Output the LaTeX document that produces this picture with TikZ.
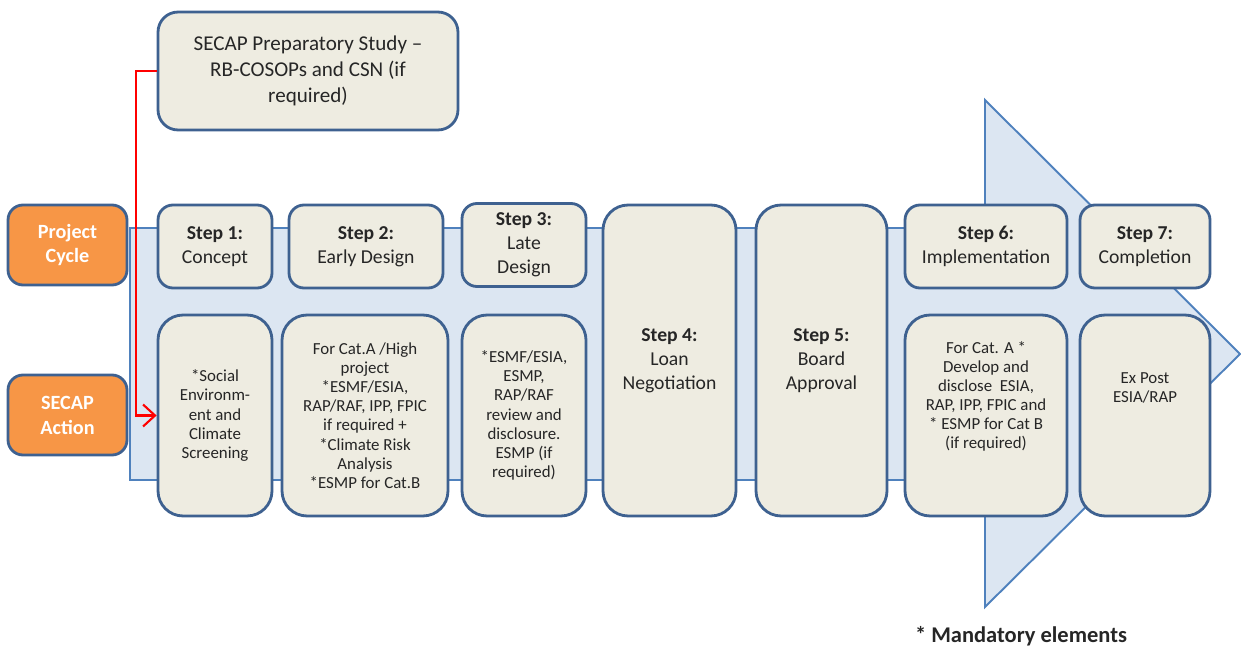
\documentclass[tikz,border=0pt]{standalone}
\usepackage{fontspec}
\setmainfont{Carlito}
\usetikzlibrary{arrows.meta, positioning, calc}

\definecolor{boxfill}{HTML}{EEECE1}
\definecolor{boxline}{HTML}{3E6190}
\definecolor{shaftfill}{HTML}{DCE6F2}
\definecolor{shaftline}{HTML}{4F81BD}
\definecolor{cyclefill}{HTML}{F79646}

\begin{document}
\begin{tikzpicture}[x=0.02cm, y=-0.02cm,
    box/.style={draw=boxline, line width=1.6pt, fill=boxfill, align=center,
        inner sep=2pt, text=black!85},
    stepbox/.style={box, rounded corners=0.3cm, font=\fontsize{11.2}{13.7}\selectfont},
    tallbox/.style={box, rounded corners=0.5cm, minimum height=6.22cm,
        font=\fontsize{11.2}{13.7}\selectfont},
    actbox/.style={box, rounded corners=0.5cm, minimum height=4.02cm,
        font=\fontsize{9.6}{10.9}\selectfont},
    cyclebox/.style={draw=boxline, line width=1.6pt, fill=cyclefill, text=white,
        rounded corners=0.3cm, align=center, minimum width=2.38cm, minimum height=1.6cm,
        font=\fontsize{11.5}{14.2}\selectfont\bfseries}]
                \useasboundingbox (0,0) rectangle (1241,652);
                % big arrow behind the steps
                \filldraw[fill=shaftfill, draw=shaftline, line width=1.1pt, line join=miter]
                (130,228) -- (985,228) -- (985,100) -- (1240,354) -- (985,607)
                -- (985,480) -- (130,480) -- cycle;
                \node[stepbox, rounded corners=0.4cm, minimum width=6cm, minimum height=2.36cm,
                    font=\fontsize{12}{14.8}\selectfont] (prep) at (308,71)
                    {SECAP Preparatory Study --\\RB-COSOPs and CSN (if\\required)};
                \node[cyclebox] (pc) at (67.5,245) {Project\\Cycle};
                \node[cyclebox] (sa) at (67.5,415) {SECAP\\Action};
                \node[stepbox, minimum width=2.28cm, minimum height=1.66cm] (s1) at (215,246.5)
                    {\textbf{Step 1:}\\Concept};
                \node[stepbox, minimum width=3.08cm, minimum height=1.66cm] (s2) at (366,246.5)
                    {\textbf{Step 2:}\\Early Design};
                \node[stepbox, minimum width=2.48cm, minimum height=1.66cm] (s3) at (524,245)
                    {\textbf{Step 3:}\\Late\\Design};
                \node[tallbox, minimum width=2.66cm] (s4) at (669.5,360.5)
                    {\textbf{Step 4:}\\Loan\\Negotiation};
                \node[tallbox, minimum width=2.62cm] (s5) at (821.5,360.5)
                    {\textbf{Step 5:}\\Board\\Approval};
                \node[stepbox, minimum width=3.24cm, minimum height=1.66cm] (s6) at (986,246.5)
                    {\textbf{Step 6:}\\Implementation};
                \node[stepbox, minimum width=2.6cm, minimum height=1.66cm] (s7) at (1145,246.5)
                    {\textbf{Step 7:}\\Completion};
                \node[actbox, minimum width=2.28cm] (a1) at (215,415.5)
                    {*Social\\Environm-\\ent and\\Climate\\Screening};
                \node[actbox, minimum width=3.32cm] (a2) at (365,415.5)
                    {For Cat.A /High\\project\\*ESMF/ESIA,\\RAP/RAF, IPP, FPIC\\if required +\\*Climate Risk\\Analysis\\*ESMP for Cat.B};
                \node[actbox, minimum width=2.48cm] (a3) at (524,415.5)
                    {*ESMF/ESIA,\\ESMP,\\RAP/RAF\\review and\\disclosure.\\ESMP (if\\required)};
                \node[actbox, minimum width=3.24cm] (a6) at (986,415.5)
                    {For Cat. A *\\Develop and\\disclose\ \ ESIA,\\RAP, IPP, FPIC\ and\\* ESMP for Cat B\\(if required)\\[1.3em]};
                \node[actbox, minimum width=2.6cm] (a7) at (1145,415.5)
                    {Ex Post\\ESIA/RAP\\[2.2em]};
                % red link from preparatory study to screening
                \draw[red, line width=1.2pt, -{Straight Barb[length=2.4mm, width=4.4mm]}]
                (prep.west) -- ++(-21,0) |- (a1.west);
                \node[font=\fontsize{12.8}{15}\selectfont\bfseries, text=black!85] (mand) at (1021,636)
                    {* Mandatory elements};
        \end{tikzpicture}
\end{document}
